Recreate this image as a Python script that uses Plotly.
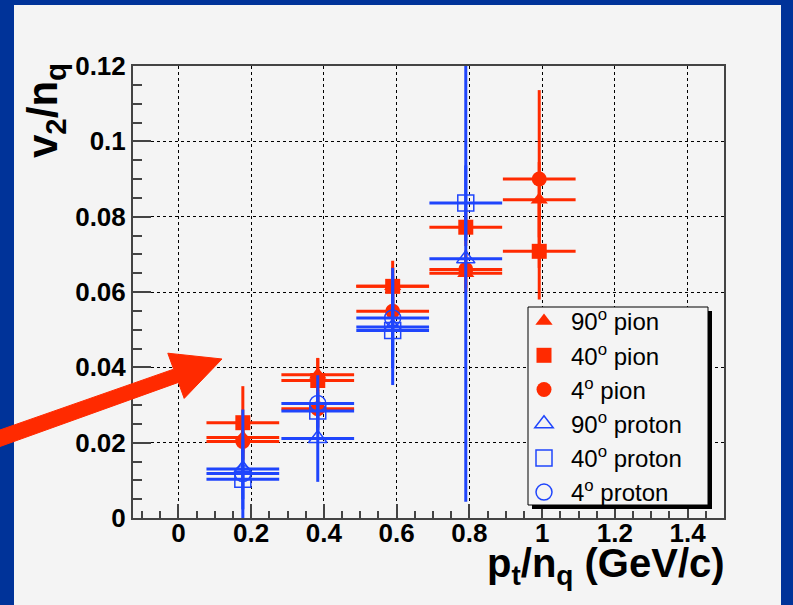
import plotly.graph_objects as go

# measured values (pt/nq in GeV/c, v2/nq)
x_pts = [0.177, 0.383, 0.589, 0.790, 0.992]
x_err = 0.1

pion90 = [0.0214, 0.0380, 0.0615, 0.0650, 0.0845]
pion90_err = [0.004, 0.0044, 0.005, 0.005, 0.010]
pion40 = [0.0253, 0.0365, 0.0615, 0.0772, 0.0708]
pion40_err = [0.0097, 0.006, 0.0068, 0.005, 0.0128]
pion4 = [0.0203, 0.0290, 0.0549, 0.0660, 0.0900]
pion4_err = [0.005, 0.005, 0.005, 0.005, 0.0236]

x_prot = [0.177, 0.383, 0.589, 0.790]
proton90 = [0.0130, 0.0211, 0.0507, 0.0688]
proton90_err = [0.008, 0.0115, 0.008, 0.0645]
proton40 = [0.0103, 0.0284, 0.0498, 0.0836]
proton40_err = [0.008, 0.005, 0.0145, 0.010]
x_prot4 = [0.177, 0.383, 0.589]
proton4 = [0.0118, 0.0304, 0.0531]
proton4_err = [0.017, 0.0075, 0.0133]

RED = "#ff2a00"
BLUE = "#1f45fc"
NAVY = "#003399"
BG = "#f4f4f4"
FONT = "Liberation Sans"

W, H = 793, 605
L, R, T, B = 133, 724, 66, 518  # plot frame in pixels


def px(xp):
    return (xp - L) / (R - L)


def py(yp):
    return (B - yp) / (B - T)


def series(x, y, err, name, symbol, color, size, open_=False):
    marker = dict(symbol=symbol, size=size, color=color)
    if open_:
        marker["line"] = dict(color=color, width=1.5)
    return go.Scatter(
        x=x, y=y, mode="markers", name=name, legendgroup=name,
        marker=marker,
        error_x=dict(type="constant", value=x_err, color=color, thickness=3, width=0),
        error_y=dict(type="data", array=err, color=color, thickness=3, width=0),
    )


fig = go.Figure()
fig.add_trace(series(x_pts, pion90, pion90_err, "90<sup>o</sup> pion", "triangle-up", RED, 15))
fig.add_trace(series(x_pts, pion40, pion40_err, "40<sup>o</sup> pion", "square", RED, 15))
fig.add_trace(series(x_pts, pion4, pion4_err, "4<sup>o</sup> pion", "circle", RED, 15))
fig.add_trace(series(x_prot, proton90, proton90_err, "90<sup>o</sup> proton", "triangle-up-open", BLUE, 16, True))
fig.add_trace(series(x_prot, proton40, proton40_err, "40<sup>o</sup> proton", "square-open", BLUE, 16, True))
fig.add_trace(series(x_prot4, proton4, proton4_err, "4<sup>o</sup> proton", "circle-open", BLUE, 16, True))

# legend box with ROOT-like shadow (drawn as shapes, legend itself is transparent)
LX0, LX1, LY0, LY1 = 528, 708, 307, 505
shapes = [
    # light panel inside the navy frame
    dict(type="rect", xref="paper", yref="paper", layer="below",
         x0=px(14), x1=px(781), y0=py(5), y1=py(H + 5), fillcolor=BG, line_width=0),
    dict(type="rect", xref="paper", yref="paper", layer="above",
         x0=px(LX0 + 4), x1=px(LX1 + 4), y0=py(LY0 + 4), y1=py(LY1 + 4),
         fillcolor="black", line_width=0),
    dict(type="rect", xref="paper", yref="paper", layer="above",
         x0=px(LX0), x1=px(LX1), y0=py(LY0), y1=py(LY1),
         fillcolor=BG, line=dict(color="black", width=1)),
]

# big red arrow pointing into the plot
ax = [(-5, 448.3), (-5, 431.7), (173.6, 369.2), (167.8, 353.2), (222, 359),
      (184.2, 398.4), (178.4, 382.4), (-5, 448.3)]
path = "M " + " L ".join(f"{px(a):.4f},{py(b):.4f}" for a, b in ax) + " Z"
shapes.append(dict(type="path", xref="paper", yref="paper", layer="above",
                   path=path, fillcolor=RED, line=dict(color=RED, width=1)))

axis_common = dict(
    showline=True, mirror=True, linecolor="#444444", linewidth=2,
    showgrid=True, gridcolor="black", griddash="dot", gridwidth=1,
    zeroline=False, ticks="inside", tickcolor="#444444", tickwidth=2,
    tickfont=dict(family=FONT, size=26, color="black", weight="bold"),
)

fig.update_layout(
    width=W, height=H,
    margin=dict(l=L, r=W - R, t=T, b=H - B),
    paper_bgcolor=NAVY, plot_bgcolor=BG,
    shapes=shapes,
    showlegend=True,
    legend=dict(
        x=px(LX0 - 11), y=py(LY0 - 8), xanchor="left", yanchor="top",
        bgcolor="rgba(0,0,0,0)", borderwidth=0,
        font=dict(family=FONT, size=24, color="black"),
        tracegroupgap=0, itemwidth=44,
    ),
    xaxis=dict(range=[-0.125, 1.5], tick0=0, dtick=0.2, ticklen=14, ticklabelstandoff=-9,
               minor=dict(dtick=0.05, ticks="inside", ticklen=7, tickcolor="#444444", tickwidth=1.5,
                          showgrid=False),
               **axis_common),
    yaxis=dict(range=[0, 0.12], tick0=0, dtick=0.02, ticklen=18,
               minor=dict(dtick=0.005, ticks="inside", ticklen=9, tickcolor="#444444", tickwidth=1.5,
                          showgrid=False),
               **axis_common),
    annotations=[
        dict(text="p<sub>t</sub>/n<sub>q</sub> (GeV/c)", xref="paper", yref="paper",
             x=px(727), y=py(539), xanchor="right", yanchor="top", showarrow=False,
             font=dict(family=FONT, size=40, color="black", weight="bold")),
        dict(text="v<sub>2</sub>/n<sub>q</sub>", xref="paper", yref="paper",
             x=px(45), y=py(111), xanchor="center", yanchor="middle", showarrow=False,
             textangle=-90,
             font=dict(family=FONT, size=42, color="black", weight="bold")),
    ],
)

fig.write_html(
    "out.html",
    config={"displayModeBar": False},
    post_script="document.body.style.margin='0px';document.body.style.background='#003399';",
)
